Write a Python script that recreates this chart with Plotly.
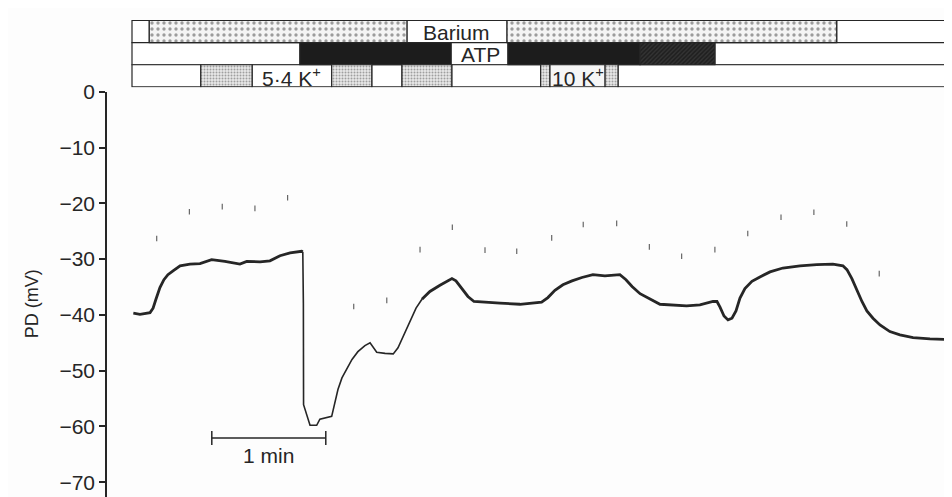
import plotly.graph_objects as go

# ---------------- data ----------------
# membrane potential trace: time (s) and PD (mV)
time_s = [0.7, 4.2, 9.5, 11.1, 12.6, 14.7, 16.8, 18.9, 21.6, 25.3, 30.5,
          35.8, 41.9, 48.9, 56.8, 60.4, 67.4, 72.6, 77.9, 83.2, 89.3, 89.9,
          90.2, 90.3, 91.9, 93.7, 97.2, 98.9, 105.1, 106.8, 108.4, 110.5, 113.0, 115.8,
          118.9, 122.6, 125.3, 128.8, 133.2, 137.5, 140.0, 142.6, 146.3, 149.5, 152.6,
          156.8, 162.1, 166.3, 168.4, 170.5, 173.7, 176.8, 180.0, 183.2, 193.7, 204.2,
          215.6, 218.9, 222.6, 226.8, 231.6, 236.8, 242.6, 248.9, 255.1, 256.8, 260.0,
          263.2, 267.4, 272.6, 277.9, 291.9, 298.9, 305.8, 307.9, 309.5, 311.6, 313.7,
          315.8, 317.9, 320.0, 322.6, 326.3, 330.5, 335.8, 342.6, 351.6, 360.4, 368.9,
          374.2, 376.3, 378.9, 381.6, 384.2, 386.8, 390.0, 393.7, 398.9, 404.2, 411.1,
          420.0, 428.8, 431.6]
pd_mv = [-39.7, -39.9, -39.6, -38.8, -37.2, -35.1, -33.7, -32.8, -32.1, -31.2, -30.9,
         -30.8, -30.1, -30.4, -30.9, -30.4, -30.5, -30.3, -29.4, -28.9, -28.6, -28.7,
         -37.9, -56.1, -57.8, -59.8, -59.8, -58.7, -58.2, -55.6, -53.4, -51.3, -49.7, -48.0,
         -46.6, -45.5, -45.0, -46.7, -46.9, -47.0, -45.9, -43.9, -41.1, -38.8, -37.2,
         -35.8, -34.7, -33.9, -33.5, -33.9, -35.3, -36.7, -37.6, -37.7, -37.9, -38.1,
         -37.7, -36.9, -35.6, -34.6, -33.9, -33.3, -32.8, -33.0, -32.8, -32.8, -33.7,
         -34.9, -36.2, -37.2, -38.1, -38.4, -38.2, -37.6, -37.6, -38.6, -40.2, -40.9,
         -40.6, -39.3, -37.0, -35.3, -34.0, -33.2, -32.3, -31.6, -31.2, -31.0, -30.9,
         -31.2, -31.9, -33.5, -35.6, -37.6, -39.3, -40.6, -41.8, -43.0, -43.6, -44.1,
         -44.3, -44.4, -45.3]

# faint specks above the trace
speck_t = [13.0, 30.2, 47.5, 64.7, 81.9, 116.7, 134.1, 151.6, 168.6, 185.8, 202.5, 220.9,
           237.5, 255.1, 272.3, 289.3, 306.8, 324.1, 341.6, 358.9, 376.2, 393.3]
speck_mv = [-26.3, -21.5, -20.6, -20.9, -19.0, -38.5, -37.4, -28.3, -24.3, -28.4, -28.6, -26.2,
            -23.8, -23.6, -27.8, -29.5, -28.3, -25.4, -22.5, -21.6, -23.7, -32.6]

# y ticks
y_ticks = [0, -10, -20, -30, -40, -50, -60, -70]

# protocol bars (start, end in s); row index: 2 = Barium, 1 = ATP, 0 = K+
white_start = [0.0, 144.7, 370.9, 0.0, 167.9, 306.8, 0.0, 63.2, 126.2, 168.3, 255.8]
white_end = [9.1, 197.4, 445.0, 88.4, 197.9, 445.0, 36.2, 105.1, 142.1, 215.1, 445.0]
white_row = [2, 2, 2, 1, 1, 1, 0, 0, 0, 0, 0]

barium_start = [9.1, 197.4]
barium_end = [144.7, 370.9]

atp_start = [88.4, 197.9]
atp_end = [167.9, 267.4]
atp_hatch_start = [267.4]
atp_hatch_end = [306.8]

k_start = [36.2, 105.1, 142.1, 215.1, 248.9]
k_end = [63.2, 126.2, 168.3, 220.0, 255.8]
k10_label_start = [220.0]
k10_label_end = [248.9]

bar_labels = ["Barium", "ATP", "5·4 K<sup>+</sup>", "10 K<sup>+</sup>"]
bar_label_t = [171.0, 183.2, 84.2, 234.7]
bar_label_row = [2, 1, 0, 0]

# 1-min scale bar
scale_t = [42.0, 102.0]
scale_mv = [-62.1, -62.1]
scale_label = "1 min"

# ---------------- figure ----------------
INK = "#262626"
FONT = "Liberation Sans, Arial, Helvetica, sans-serif"

fig = go.Figure()

# trace: thick before the drop, thin during ATP drop/recovery, thick afterwards
i1 = time_s.index(89.9)
i2 = time_s.index(152.6)
fig.add_trace(go.Scatter(x=time_s[:i1 + 1], y=pd_mv[:i1 + 1], mode="lines",
                         line=dict(color=INK, width=2.8), hoverinfo="skip", showlegend=False))
fig.add_trace(go.Scatter(x=time_s[i1:i2 + 1], y=pd_mv[i1:i2 + 1], mode="lines",
                         line=dict(color=INK, width=1.6), hoverinfo="skip", showlegend=False))
fig.add_trace(go.Scatter(x=time_s[i2:], y=pd_mv[i2:], mode="lines",
                         line=dict(color=INK, width=2.8), hoverinfo="skip", showlegend=False))

# specks
fig.add_trace(go.Scatter(x=speck_t, y=speck_mv, mode="markers",
                         marker=dict(symbol="line-ns", size=4, line=dict(color="#666", width=1.2)),
                         hoverinfo="skip", showlegend=False))

# scale bar
fig.add_trace(go.Scatter(x=scale_t, y=scale_mv, mode="lines+markers",
                         line=dict(color=INK, width=1.5),
                         marker=dict(symbol="line-ns", size=10, line=dict(color=INK, width=1.5)),
                         hoverinfo="skip", showlegend=False))
fig.add_annotation(x=sum(scale_t) / 2, y=-65.3, text=scale_label, showarrow=False,
                   xref="x", yref="y", font=dict(family=FONT, size=21, color=INK))


def seg_bar(starts, ends, rows, **marker):
    return go.Bar(
        orientation="h",
        base=starts,
        x=[e - s for s, e in zip(starts, ends)],
        y=rows,
        width=[1] * len(starts),
        marker=dict(line=dict(color=INK, width=1.2), **marker),
        xaxis="x", yaxis="y2", hoverinfo="skip", showlegend=False,
    )


fig.add_trace(seg_bar(white_start, white_end, white_row, color="white"))
fig.add_trace(seg_bar(barium_start, barium_end, [2] * len(barium_start), color="white",
                      pattern=dict(shape=".", fgcolor="#444", bgcolor="#f4f4f4", size=6, solidity=0.25)))
fig.add_trace(seg_bar(atp_start, atp_end, [1] * len(atp_start), color="#1c1c1c"))
fig.add_trace(seg_bar(atp_hatch_start, atp_hatch_end, [1], color="#222",
                      pattern=dict(shape="/", fgcolor="#0a0a0a", bgcolor="#333", size=3, solidity=0.5)))
fig.add_trace(seg_bar(k_start, k_end, [0] * len(k_start), color="white",
                      pattern=dict(shape=".", fgcolor="#555", bgcolor="#e8e8e8", size=3, solidity=0.35)))
fig.add_trace(seg_bar(k10_label_start, k10_label_end, [0], color="#f6f6f6"))

for txt, t, r in zip(bar_labels, bar_label_t, bar_label_row):
    fig.add_annotation(x=t, y=r, text=txt, showarrow=False, xref="x", yref="y2",
                       font=dict(family=FONT, size=21, color=INK), yshift=-1)

# y title
fig.add_annotation(x=-0.103, y=0.406, xref="paper", yref="paper", text="PD (mV)",
                   textangle=-90, showarrow=False, font=dict(family=FONT, size=18, color=INK))

# page body has an 8 px margin: size the figure to fill the remaining window
fig.update_layout(
    width=944, height=489,
    margin=dict(l=99, r=0, t=4, b=0),
    paper_bgcolor="#fdfdfd", plot_bgcolor="#fdfdfd",
    barmode="overlay",
    xaxis=dict(range=[-13.16, 431.6], visible=False, fixedrange=True),
    yaxis=dict(domain=[0, 0.8495], range=[-72.66, 0], tickvals=y_ticks,
               ticks="outside", ticklen=6, tickwidth=1.5, tickcolor=INK,
               showline=True, linecolor=INK, linewidth=1.5,
               showgrid=False, zeroline=False,
               tickfont=dict(family=FONT, size=21, color=INK)),
    yaxis2=dict(domain=[0.8588, 1.0], range=[-0.52, 2.52], visible=False, anchor="x"),
)

fig.write_html("out.html")
